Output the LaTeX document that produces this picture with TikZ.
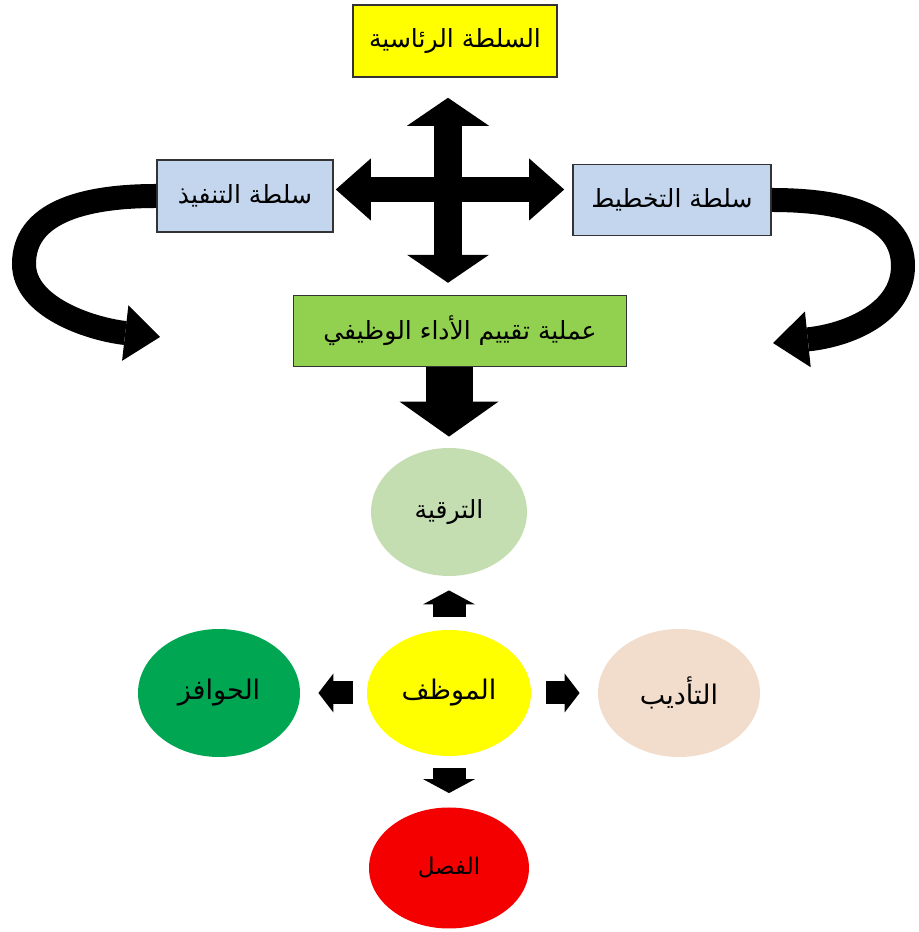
\documentclass[tikz,border=0pt]{standalone}
\usepackage{fontspec}
\newfontfamily\arabicfont[Script=Arabic]{DejaVu Sans}
\TeXXeTstate=1
\usetikzlibrary{arrows.meta, positioning, shapes.geometric}

\definecolor{boxyellow}{RGB}{255,255,0}
\definecolor{boxblue}{RGB}{195,214,238}
\definecolor{boxgreen}{RGB}{146,208,80}
\definecolor{palegreen}{RGB}{196,222,178}
\definecolor{darkgreen}{RGB}{0,166,81}
\definecolor{peach}{RGB}{242,220,203}
\definecolor{red}{RGB}{245,0,0}

\newcommand\artxt[1]{\arabicfont\beginR #1\endR}

\begin{document}
\begin{tikzpicture}[x=0.5pt, y=0.5pt,
  box/.style={draw=black!80, line width=0.8pt, inner sep=0pt, font=\fontsize{12.5}{15}\selectfont},
  blob/.style={ellipse, inner sep=0pt, font=\fontsize{13.5}{16}\selectfont},
  crossv/.style={line width=14pt, {Triangle[width=41pt,length=14pt,line width=0pt]}-{Triangle[width=41pt,length=14pt,line width=0pt]}},
  crossh/.style={line width=12.5pt, {Triangle[width=31pt,length=17.5pt,line width=0pt]}-{Triangle[width=31pt,length=17.5pt,line width=0pt]}},
  curv/.style={line width=12pt, -{Triangle[width=28pt,length=17.5pt,line width=0pt]}},
  bigdown/.style={line width=23.5pt, -{Triangle[width=49.5pt,length=17.5pt,line width=0pt]}},
  smallv/.style={line width=16.5pt, -{Triangle[width=26pt,length=7pt,line width=0pt]}},
  smallh/.style={line width=11.5pt, -{Triangle[width=19.5pt,length=7.5pt,line width=0pt]}}]
\useasboundingbox (0,0) rectangle (918,932);

% boxes
\node (ra) [box, fill=boxyellow, minimum width=102pt, minimum height=36pt] at (455,891)
{\artxt{السلطة الرئاسية}};
\node (ada) [box, fill=boxgreen, minimum width=166.5pt, minimum height=35.5pt, below=108.5pt of ra, xshift=2.5pt]
{\artxt{عملية تقييم الأداء الوظيفي}};
\node (tsh) [box, fill=boxblue, minimum width=88pt, minimum height=36pt] at (245,736)
{\artxt{سلطة التنفيذ}};
\node (ttk) [box, fill=boxblue, minimum width=99pt, minimum height=35.5pt] at (672,732)
{\artxt{سلطة التخطيط}};

% ellipses
\node (trq) [blob, fill=palegreen, minimum width=78pt, minimum height=64pt, font=\fontsize{12.5}{15}\selectfont] at (449,420) {\artxt{الترقية}};
\node (mwz) [blob, fill=boxyellow, minimum width=82pt, minimum height=63pt] at (449,239) {\artxt{الموظف}};
\node (hwf) [blob, fill=darkgreen, minimum width=81pt, minimum height=64pt] at (219,239) {\artxt{الحوافز}};
\node (tdb) [blob, fill=peach, minimum width=81pt, minimum height=64pt] at (679,239) {\artxt{التأديب}};
\node (fsl) [blob, fill=red, minimum width=80pt, minimum height=60.5pt, font=\fontsize{11.5}{14}\selectfont] at (449,64) {\artxt{\color{black!85!red}الفصل}};

% cross
\coordinate (hub) at (448,742.5);
\draw[crossv, shorten <=10pt, shorten >=6pt] (hub |- ra.south) -- (hub |- ada.north);
\draw[crossh, shorten <=1pt, shorten >=4pt] (hub -| tsh.east) -- (hub -| ttk.west);

% side loops
\draw[curv] (tsh.west) .. controls (80,736) and (24,718) .. (24,668)
  .. controls (24,625) and (90,603) .. (160,595);
\draw[curv] (ttk.east) .. controls (850,732) and (903,714) .. (903,666)
  .. controls (903,620) and (850,597) .. (773,589);

\draw[bigdown, shorten >=5.5pt] (ada.south -| trq.north) -- (trq.north);

% around the employee
\draw[smallv, shorten <=6.5pt, shorten >=7pt] (mwz.north) -- (trq.south);
\draw[smallh, shorten <=7pt, shorten >=9pt] (mwz.west) -- (hwf.east);
\draw[smallh, shorten <=7.5pt, shorten >=9pt] (mwz.east) -- (tdb.west);
\draw[smallv, shorten <=6pt, shorten >=7pt] (mwz.south) -- (fsl.north);
\end{tikzpicture}
\end{document}
